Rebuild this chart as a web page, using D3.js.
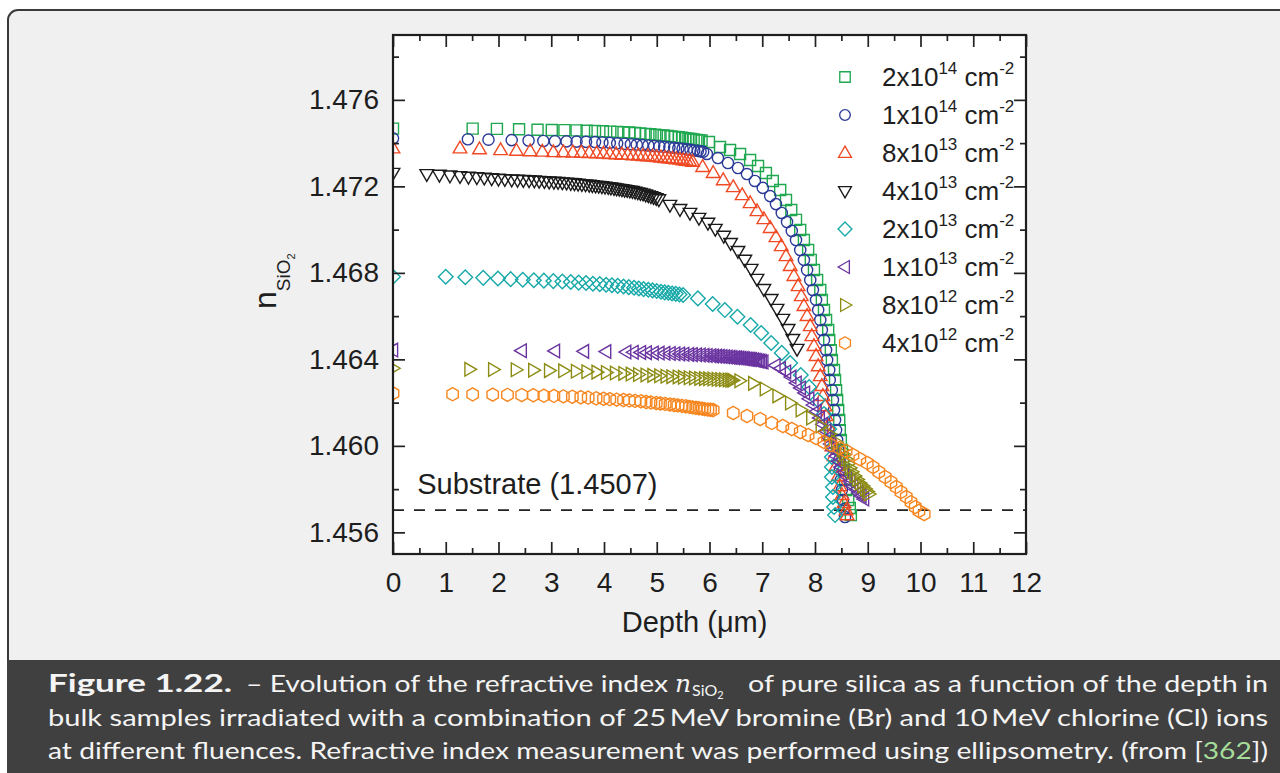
<!DOCTYPE html>
<html><head><meta charset="utf-8">
<script src="https://cdn.jsdelivr.net/npm/d3@7"></script>
<style>
html,body{margin:0;padding:0;background:#fff;}
svg{display:block;}
</style></head>
<body>
<svg id="chart" width="1280" height="773"></svg>
<script>
// ---------------- DATA ----------------
const xTicks = [0,1,2,3,4,5,6,7,8,9,10,11,12];
const xMinorTicks = [0.5,1.5,2.5,3.5,4.5,5.5,6.5,7.5,8.5,9.5,10.5,11.5];
const yTicks = [1.456,1.460,1.464,1.468,1.472,1.476];
const yMinorTicks = [1.458,1.462,1.466,1.470,1.474,1.478];
const fluenceMantissa = ["2","1","8","4","2","1","8","4"];
const fluenceExponent = ["14","14","13","13","13","13","12","12"];
const substrateIndex = 1.45703;
const substrateLabel = "Substrate (1.4507)";
const xTitle = "Depth (\u03BCm)";

// [depth (µm), n_SiO2]
const s2e14 = [[0,1.47467],
[1.51,1.47467],[1.97,1.47466],[2.39,1.47464],[2.74,1.47462],[3.01,1.47461],[3.25,1.4746],[3.48,1.47459],[3.67,1.47457],[3.83,1.47456],[3.98,1.47455],[4.12,1.47453],[4.25,1.47452],[4.37,1.4745],[4.48,1.47449],[4.59,1.47447],[4.69,1.47445],[4.79,1.47443],[4.88,1.47441],[4.97,1.47439],[5.05,1.47437],[5.13,1.47435],[5.21,1.47433],[5.28,1.47431],[5.35,1.47429],[5.42,1.47427],[5.48,1.47425],[5.54,1.47423],[5.60,1.47421],[5.65,1.47419],[5.70,1.47417],[5.75,1.47415],[5.80,1.47414],[5.85,1.47412],
[5.99,1.47405],[6.20,1.47382],[6.39,1.47368],[6.58,1.4735],[6.77,1.47322],[6.92,1.47294],[7.07,1.47262],[7.20,1.47225],[7.34,1.47183],[7.45,1.47137],[7.55,1.47091],[7.64,1.47045],[7.72,1.46998],[7.79,1.46952],[7.87,1.46906],[7.92,1.4686],[7.98,1.46813],[8.04,1.46767],[8.10,1.46721],[8.13,1.46675],[8.17,1.46628],[8.21,1.46582],[8.25,1.46536],[8.27,1.4649],[8.30,1.46443],[8.32,1.46397],[8.36,1.46351],[8.38,1.46305],[8.40,1.46258],[8.42,1.46212],[8.44,1.46166],[8.46,1.4612],[8.47,1.46073],[8.49,1.46027],[8.51,1.45981],[8.53,1.45935],[8.55,1.45888],[8.57,1.45842],[8.59,1.45796],[8.63,1.4575],[8.66,1.45713],[8.68,1.4568]];

const s1e14 = [[0,1.47422],
[1.42,1.47418],[1.81,1.47416],[2.25,1.47414],[2.57,1.47412],[2.85,1.4741],[3.07,1.47409],[3.29,1.47408],[3.48,1.47407],[3.66,1.47406],[3.83,1.47405],[3.97,1.47403],[4.11,1.47401],[4.25,1.47399],[4.39,1.47397],[4.51,1.47395],[4.62,1.47393],[4.73,1.47391],[4.84,1.47389],[4.95,1.47387],[5.05,1.47385],[5.14,1.47383],[5.24,1.47381],[5.33,1.47378],[5.41,1.47376],[5.49,1.47374],[5.57,1.47371],[5.64,1.47369],[5.71,1.47366],[5.78,1.47364],[5.83,1.47362],[5.88,1.4736],
[5.95,1.4735],[6.16,1.47331],[6.35,1.47308],[6.54,1.47285],[6.71,1.47257],[6.86,1.47225],[7.01,1.47193],[7.15,1.47155],[7.26,1.47118],[7.37,1.47077],[7.47,1.47035],[7.56,1.46994],[7.64,1.46952],[7.72,1.46906],[7.79,1.4686],[7.85,1.46813],[7.91,1.46767],[7.96,1.46721],[8.02,1.46675],[8.06,1.46628],[8.10,1.46582],[8.13,1.46536],[8.17,1.4649],[8.21,1.46443],[8.23,1.46397],[8.27,1.46351],[8.28,1.46305],[8.32,1.46258],[8.34,1.46212],[8.36,1.46166],[8.38,1.4612],[8.40,1.46073],[8.42,1.46027],[8.44,1.45981],[8.46,1.45935],[8.47,1.45888],[8.49,1.45842],[8.51,1.45796],[8.53,1.4575],[8.55,1.45708],[8.57,1.45671]];

const s8e13 = [[0,1.47376],
[1.27,1.47376],[1.64,1.47372],[2.04,1.47368],[2.34,1.47365],[2.60,1.47363],[2.83,1.47361],[3.04,1.47359],[3.23,1.47358],[3.41,1.47357],[3.57,1.47356],[3.72,1.47355],[3.86,1.47353],[3.99,1.47352],[4.11,1.4735],[4.23,1.47349],[4.34,1.47347],[4.45,1.47346],[4.55,1.47344],[4.65,1.47343],[4.74,1.47341],[4.83,1.4734],[4.92,1.47338],[5.00,1.47336],[5.08,1.47334],[5.16,1.47332],[5.23,1.4733],[5.30,1.47328],[5.37,1.47326],[5.44,1.47324],[5.50,1.47321],[5.56,1.47319],[5.62,1.47317],[5.68,1.47314],
[5.87,1.4729],[6.07,1.47262],[6.26,1.47229],[6.45,1.47197],[6.62,1.4716],[6.77,1.47123],[6.90,1.47086],[7.03,1.47049],[7.15,1.47008],[7.26,1.46966],[7.36,1.46924],[7.45,1.46878],[7.53,1.46832],[7.60,1.46786],[7.68,1.46739],[7.74,1.46693],[7.79,1.46647],[7.85,1.46601],[7.91,1.46554],[7.94,1.46508],[7.98,1.46462],[8.02,1.46416],[8.06,1.46369],[8.10,1.46323],[8.13,1.46277],[8.15,1.46231],[8.19,1.46184],[8.21,1.46138],[8.25,1.46092],[8.28,1.46046],[8.32,1.45999],[8.36,1.45953],[8.40,1.45907],[8.44,1.45861],[8.47,1.45814],[8.51,1.45773],[8.55,1.45736],[8.59,1.45703],[8.61,1.4568]];

const s4e13 = [[0,1.47262],
[0.64,1.47256],[0.88,1.47253],[1.08,1.4725],[1.27,1.47247],[1.43,1.47244],[1.59,1.47242],[1.73,1.4724],[1.87,1.47237],[2.00,1.47235],[2.12,1.47233],[2.25,1.47231],[2.36,1.4723],[2.47,1.47229],[2.58,1.47228],[2.68,1.47227],[2.77,1.47225],[2.87,1.47224],[2.96,1.47222],[3.05,1.47221],[3.13,1.4722],[3.21,1.47218],[3.29,1.47217],[3.37,1.47215],[3.44,1.47214],[3.51,1.47212],[3.58,1.4721],[3.65,1.47209],[3.72,1.47207],[3.78,1.47205],[3.84,1.47203],[3.90,1.47202],[3.96,1.472],[4.02,1.47198],[4.08,1.47196],[4.13,1.47194],[4.19,1.47192],[4.24,1.4719],[4.29,1.47188],[4.34,1.47186],[4.39,1.47184],[4.44,1.47182],[4.49,1.4718],[4.54,1.47178],[4.59,1.47175],[4.64,1.47172],[4.69,1.47169],[4.74,1.47166],[4.79,1.47162],[4.84,1.47158],[4.89,1.47154],[4.94,1.4715],[4.99,1.47145],[5.04,1.4714],
[5.25,1.47114],[5.44,1.47095],[5.63,1.47077],[5.80,1.47054],[5.97,1.47031],[6.11,1.47003],[6.27,1.46971],[6.40,1.46938],[6.54,1.46901],[6.67,1.4686],[6.79,1.46818],[6.90,1.46772],[7.03,1.46725],[7.17,1.46679],[7.28,1.46633],[7.39,1.46587],[7.49,1.4654],[7.58,1.46494],[7.66,1.46448]];

const s2e13 = [[0,1.46782],
[1.00,1.46782],[1.37,1.4678],[1.71,1.46777],[1.99,1.46774],[2.23,1.46771],[2.46,1.46768],[2.67,1.46766],[2.86,1.46764],[3.04,1.46762],[3.21,1.4676],[3.37,1.46758],[3.52,1.46755],[3.66,1.46753],[3.79,1.4675],[3.92,1.46748],[4.04,1.46745],[4.15,1.46743],[4.26,1.4674],[4.37,1.46737],[4.47,1.46734],[4.57,1.46731],[4.66,1.46728],[4.75,1.46725],[4.84,1.46722],[4.92,1.46719],[5.00,1.46716],[5.08,1.46713],[5.15,1.4671],[5.22,1.46708],[5.29,1.46705],[5.36,1.46703],[5.43,1.467],[5.50,1.46698],
[5.78,1.46682],[6.06,1.46656],[6.29,1.46628],[6.53,1.46597],[6.78,1.46559],[6.98,1.46522],[7.17,1.46476],[7.37,1.4643],[7.53,1.46383],[7.73,1.46328],[7.89,1.46272],[8.05,1.46212],[8.17,1.46147],[8.27,1.46078],[8.34,1.45995],[8.32,1.45949],[8.32,1.45902],[8.32,1.45856],[8.34,1.4581],[8.34,1.45764],[8.36,1.45717],[8.38,1.4568]];

const s1e13 = [[0,1.46443],
[2.44,1.4644],[3.07,1.46439],[3.62,1.46437],[4.04,1.46436],[4.42,1.46434],[4.56,1.46433],[4.70,1.46432],[4.81,1.46431],[4.94,1.4643],[5.05,1.46429],[5.16,1.46428],[5.26,1.46427],[5.35,1.46426],[5.44,1.46425],[5.52,1.46424],[5.61,1.46423],[5.68,1.46422],[5.76,1.46421],[5.83,1.4642],[5.90,1.46419],[5.96,1.46418],[6.03,1.46417],[6.08,1.46416],[6.14,1.46415],[6.19,1.46414],[6.24,1.46413],[6.29,1.46412],[6.34,1.46411],[6.39,1.4641],[6.43,1.46409],[6.48,1.46408],[6.52,1.46407],[6.56,1.46406],[6.60,1.46405],[6.64,1.46404],[6.67,1.46403],[6.71,1.46402],[6.74,1.46401],[6.77,1.464],[6.80,1.46399],[6.84,1.46398],[6.87,1.46396],[6.90,1.46395],[6.93,1.46393],[6.96,1.46392],[6.99,1.4639],[7.02,1.46388],
[7.25,1.46372],[7.35,1.46358],[7.45,1.46342],[7.55,1.46318],[7.65,1.46291],[7.73,1.46268],[7.81,1.46245],[7.89,1.46218],[7.97,1.46189],[8.03,1.4616],[8.09,1.46129],[8.15,1.461],[8.21,1.46069],[8.26,1.46039],[8.30,1.46009],[8.35,1.45981],[8.40,1.45953],[8.45,1.45928],[8.49,1.45902],[8.55,1.45879],[8.61,1.45856],[8.67,1.45835],[8.72,1.45814],[8.78,1.45798],[8.83,1.45782],[8.88,1.45768],[8.93,1.45754]];

const s8e12 = [[0,1.46359],
[1.45,1.46354],[1.90,1.46353],[2.33,1.46352],[2.66,1.4635],[2.96,1.46348],[3.23,1.46347],[3.47,1.46345],[3.67,1.46343],[3.86,1.46341],[4.04,1.46339],[4.21,1.46337],[4.37,1.46335],[4.51,1.46332],[4.65,1.4633],[4.79,1.46328],[4.92,1.46326],[5.05,1.46324],[5.17,1.46322],[5.28,1.4632],[5.40,1.46319],[5.50,1.46317],[5.61,1.46315],[5.71,1.46314],[5.81,1.46312],[5.90,1.46311],[5.98,1.4631],[6.06,1.46309],[6.14,1.46308],[6.21,1.46307],[6.28,1.46306],[6.35,1.46305],[6.40,1.46304],[6.44,1.46303],
[6.57,1.46301],[6.83,1.46289],[7.05,1.46263],[7.29,1.46231],[7.53,1.46198],[7.73,1.46166],[7.93,1.46129],[8.11,1.46092],[8.27,1.46055],[8.40,1.46018],[8.51,1.45981],[8.55,1.4596],[8.59,1.45939],[8.63,1.45918],[8.66,1.45898],[8.70,1.4588],[8.75,1.45861],[8.80,1.45845],[8.85,1.45828],[8.90,1.45815],[8.95,1.45801],[8.99,1.45789],[9.02,1.45777]];

const s4e12 = [[0,1.46243],
[1.13,1.46239],[1.51,1.46238],[1.89,1.46237],[2.17,1.46236],[2.44,1.46235],[2.66,1.46234],[2.86,1.46232],[3.05,1.46231],[3.23,1.46229],[3.40,1.46227],[3.56,1.46225],[3.70,1.46223],[3.85,1.4622],[3.99,1.46218],[4.11,1.46216],[4.24,1.46214],[4.37,1.46212],[4.48,1.4621],[4.59,1.46208],[4.70,1.46206],[4.80,1.46203],[4.89,1.46201],[4.99,1.46198],[5.07,1.46196],[5.16,1.46194],[5.25,1.46191],[5.33,1.46189],[5.40,1.46187],[5.48,1.46185],[5.55,1.46183],[5.62,1.4618],[5.68,1.46178],[5.74,1.46176],[5.80,1.46174],[5.86,1.46172],[5.91,1.4617],[5.97,1.46168],[6.02,1.46167],[6.07,1.46166],
[6.45,1.46152],[6.71,1.46138],[6.96,1.46124],[7.18,1.46106],[7.39,1.46092],[7.56,1.46078],[7.72,1.46064],[7.87,1.4605],[8.02,1.46036],[8.17,1.46018],[8.30,1.46004],[8.46,1.4599],[8.59,1.45976],[8.72,1.45958],[8.85,1.45939],[8.99,1.45921],[9.10,1.45902],[9.21,1.45879],[9.33,1.45856],[9.44,1.45833],[9.54,1.4581],[9.63,1.45787],[9.73,1.45764],[9.82,1.4574],[9.90,1.45717],[9.97,1.45699],[10.07,1.45685]];

const seriesData = [s2e14, s1e14, s8e13, s4e13, s2e13, s1e13, s8e12, s4e12];

// ---------------- STYLE ----------------
const seriesColors = ["#1fa84f","#2b3a98","#f04a25","#1a1a1a","#17a8a8","#6a34a0","#8c8c14","#f7861e"];
const seriesShapes = ["square","circle","triUp","triDown","diamond","triLeft","triRight","hexagon"];

const shapePaths = {
  square:  "M-5.5,-5.5H5.5V5.5H-5.5Z",
  circle:  "M5.6,0A5.6,5.6 0 1,1 -5.6,0A5.6,5.6 0 1,1 5.6,0Z",
  triUp:   "M0,-7.2L6.8,4.6L-6.8,4.6Z",
  triDown: "M0,7.2L6.8,-4.6L-6.8,-4.6Z",
  triLeft: "M-7.2,0L4.6,-6.8L4.6,6.8Z",
  triRight:"M7.2,0L-4.6,-6.8L-4.6,6.8Z",
  diamond: "M0,-7.3L7.3,0L0,7.3L-7.3,0Z",
  hexagon: "M0,-6.6L5.7,-3.3L5.7,3.3L0,6.6L-5.7,3.3L-5.7,-3.3Z"
};

const svg = d3.select("#chart");
const W = 1280, H = 773;
const plot = {left:393, right:1026, top:35, bottom:554};
const textColor = "#1e1e1e";
const font = "'Liberation Sans', Arial, Helvetica, sans-serif";

// background panel
svg.append("rect").attr("x",0).attr("y",0).attr("width",W).attr("height",H).attr("fill","#fff");
svg.append("rect").attr("x",8).attr("y",10).attr("width",1300).attr("height",700).attr("rx",10)
  .attr("fill","#f0f0f0").attr("stroke","#3a3a3a").attr("stroke-width",2);
svg.append("rect").attr("x",7).attr("y",660).attr("width",W).attr("height",H-660).attr("fill","#404040");

const x = d3.scaleLinear().domain([0,12]).range([plot.left, plot.right]);
const y = d3.scaleLinear().domain([1.455,1.479]).range([plot.bottom, plot.top]);

svg.append("rect").attr("x",plot.left).attr("y",plot.top)
  .attr("width",plot.right-plot.left).attr("height",plot.bottom-plot.top).attr("fill","#fff");

svg.append("defs").append("clipPath").attr("id","clip").append("rect")
  .attr("x",plot.left).attr("y",plot.top)
  .attr("width",plot.right-plot.left).attr("height",plot.bottom-plot.top);

// substrate dashed line
svg.append("line")
  .attr("x1",x(0)).attr("x2",x(12)).attr("y1",y(substrateIndex)).attr("y2",y(substrateIndex))
  .attr("stroke","#222").attr("stroke-width",1.8).attr("stroke-dasharray","11,10");
svg.append("text").attr("x",x(0.46)).attr("y",494)
  .attr("font-family",font).attr("font-size",29).attr("fill",textColor).text(substrateLabel);

// series markers
const marks = svg.append("g").attr("clip-path","url(#clip)");
seriesData.forEach((data,i)=>{
  marks.append("g").selectAll("path").data(data).join("path")
    .attr("d", shapePaths[seriesShapes[i]])
    .attr("transform", d=>`translate(${x(d[0])},${y(d[1])})`)
    .attr("fill","none").attr("stroke",seriesColors[i]).attr("stroke-width",1.4);
});

// axes
function styleAxis(g){
  g.select(".domain").remove();
  g.selectAll(".tick line").attr("stroke","#222").attr("stroke-width",1.7);
  g.selectAll(".tick text").attr("font-family",font).attr("font-size",28).attr("fill",textColor);
}
svg.append("g").attr("transform",`translate(0,${plot.bottom})`)
  .call(d3.axisBottom(x).tickValues(xTicks).tickSize(-12).tickPadding(18).tickFormat(d3.format("d"))).call(styleAxis);
svg.append("g").attr("transform",`translate(0,${plot.bottom})`)
  .call(d3.axisBottom(x).tickValues(xMinorTicks).tickSize(-6).tickFormat("")).call(styleAxis);
svg.append("g").attr("transform",`translate(0,${plot.top})`)
  .call(d3.axisTop(x).tickValues(xTicks).tickSize(-12).tickFormat("")).call(styleAxis);
svg.append("g").attr("transform",`translate(0,${plot.top})`)
  .call(d3.axisTop(x).tickValues(xMinorTicks).tickSize(-6).tickFormat("")).call(styleAxis);
svg.append("g").attr("transform",`translate(${plot.left},0)`)
  .call(d3.axisLeft(y).tickValues(yTicks).tickSize(-12).tickPadding(14).tickFormat(d3.format(".3f"))).call(styleAxis);
svg.append("g").attr("transform",`translate(${plot.left},0)`)
  .call(d3.axisLeft(y).tickValues(yMinorTicks).tickSize(-6).tickFormat("")).call(styleAxis);
svg.append("g").attr("transform",`translate(${plot.right},0)`)
  .call(d3.axisRight(y).tickValues(yTicks).tickSize(-12).tickFormat("")).call(styleAxis);
svg.append("g").attr("transform",`translate(${plot.right},0)`)
  .call(d3.axisRight(y).tickValues(yMinorTicks).tickSize(-6).tickFormat("")).call(styleAxis);

// frame
svg.append("rect").attr("x",plot.left).attr("y",plot.top)
  .attr("width",plot.right-plot.left).attr("height",plot.bottom-plot.top)
  .attr("fill","none").attr("stroke","#1e1e1e").attr("stroke-width",2.2);

// axis titles
svg.append("text").attr("x",694.6).attr("y",632).attr("text-anchor","middle")
  .attr("font-family",font).attr("font-size",29).attr("fill",textColor).text(xTitle);

const yt = svg.append("text").attr("transform","translate(276,309) rotate(-90)")
  .attr("font-family",font).attr("fill",textColor);
yt.append("tspan").attr("font-size",32).text("n");
yt.append("tspan").attr("font-size",19).attr("dy",14).text("SiO");
yt.append("tspan").attr("font-size",11).attr("dy",5).text("2");

// legend
const legend = svg.append("g");
fluenceMantissa.forEach((m,i)=>{
  const ry = 77 + i*38;
  legend.append("path").attr("d",shapePaths[seriesShapes[i]])
    .attr("transform",`translate(845,${ry}) scale(0.95)`)
    .attr("fill","none").attr("stroke",seriesColors[i]).attr("stroke-width",1.4);
  const t = legend.append("text").attr("x",882).attr("y",ry+9)
    .attr("font-family",font).attr("font-size",26).attr("fill",textColor);
  t.append("tspan").text(m+"x10");
  t.append("tspan").attr("font-size",17).attr("dy",-12).text(fluenceExponent[i]);
  t.append("tspan").attr("dy",12).text(" cm");
  t.append("tspan").attr("font-size",17).attr("dy",-12).text("-2");
});

// caption
const capFont = "Lato, 'Open Sans', sans-serif";
const capColor = "#f4f4f4";
const cap = svg.append("g").attr("font-family",capFont).attr("font-size",24).attr("fill",capColor);
cap.append("text").attr("x",48).attr("y",692).attr("font-weight","bold")
  .attr("textLength",184).attr("lengthAdjust","spacingAndGlyphs").text("Figure 1.22.");
cap.append("text").attr("x",246).attr("y",692)
  .attr("textLength",422).attr("lengthAdjust","spacingAndGlyphs").text("\u2013 Evolution of the refractive index");
const mt = cap.append("text").attr("x",675).attr("y",692);
mt.append("tspan").attr("font-family","'DejaVu Serif', 'Liberation Serif', serif").attr("font-style","italic").attr("font-size",25).text("n");
mt.append("tspan").attr("font-size",16).attr("dy",4).attr("dx",1).text("SiO");
mt.append("tspan").attr("font-size",11).attr("dy",3).text("2");
cap.append("text").attr("x",748).attr("y",692)
  .attr("textLength",520).attr("lengthAdjust","spacingAndGlyphs").text("of pure silica as a function of the depth in");
cap.append("text").attr("x",48).attr("y",726)
  .attr("textLength",1220).attr("lengthAdjust","spacingAndGlyphs")
  .text("bulk samples irradiated with a combination of 25\u2009MeV bromine (Br) and 10\u2009MeV chlorine (Cl) ions");
const l3 = cap.append("text").attr("x",48).attr("y",759)
  .attr("textLength",1220).attr("lengthAdjust","spacingAndGlyphs");
l3.append("tspan").text("at different fluences. Refractive index measurement was performed using ellipsometry. (from [");
l3.append("tspan").attr("fill","#a6dc9a").text("362");
l3.append("tspan").text("])");
</script>
</body></html>
